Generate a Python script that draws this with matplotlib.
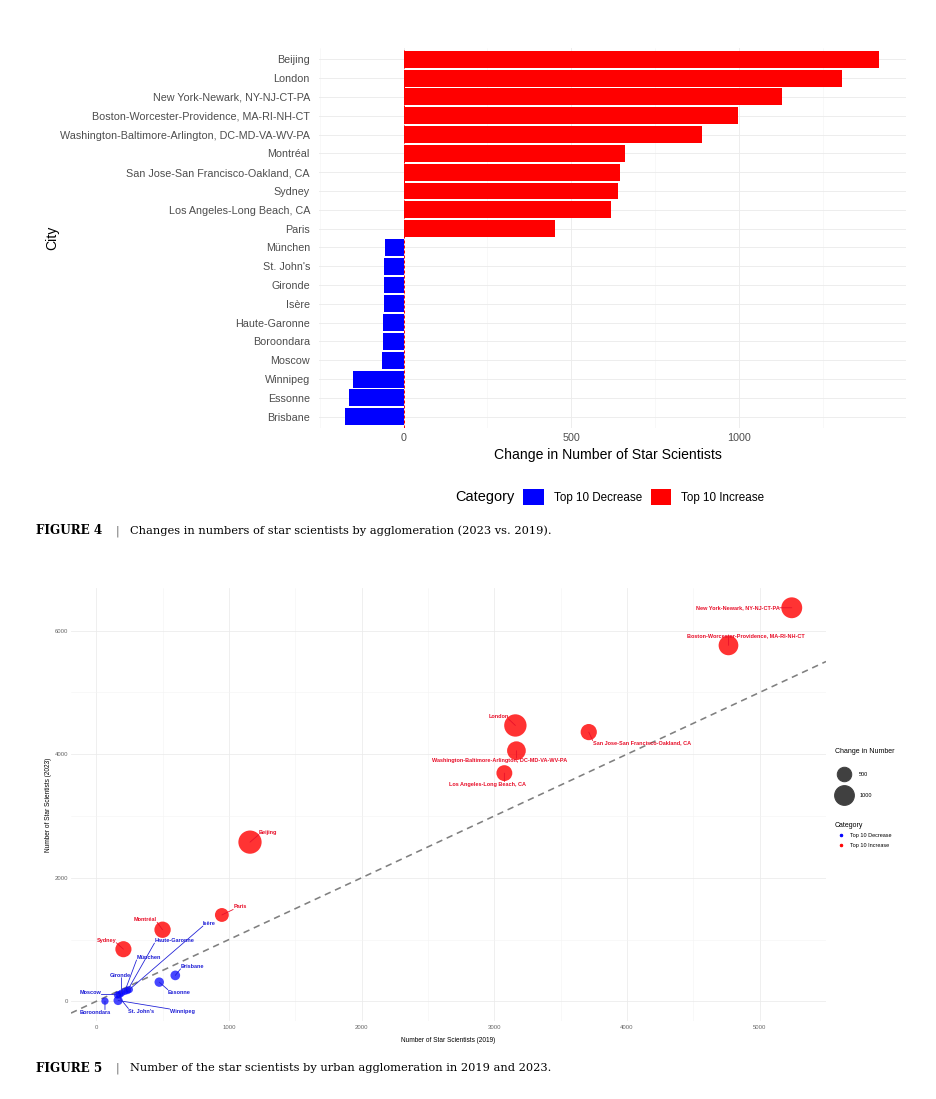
import matplotlib.pyplot as plt
import numpy as np
from matplotlib.patches import Patch
from matplotlib.lines import Line2D
from matplotlib.ticker import FixedLocator

plt.rcParams["font.family"] = ["Liberation Sans", "DejaVu Sans"]

# City order as in the bar chart (largest increase on top)
cities = [
    "Beijing", "London", "New York-Newark, NY-NJ-CT-PA",
    "Boston-Worcester-Providence, MA-RI-NH-CT",
    "Washington-Baltimore-Arlington, DC-MD-VA-WV-PA", "Montréal",
    "San Jose-San Francisco-Oakland, CA", "Sydney",
    "Los Angeles-Long Beach, CA", "Paris", "München", "St. John's",
    "Gironde", "Isère", "Haute-Garonne", "Boroondara", "Moscow",
    "Winnipeg", "Essonne", "Brisbane",
]
stars_2019 = [1159, 3159, 5242, 4765, 3167, 500, 3712, 205, 3076, 947,
              215, 160, 190, 250, 235, 66, 175, 165, 475, 596]
stars_2023 = [2577, 4465, 6370, 5761, 4057, 1159, 4358, 844, 3694, 1398,
              160, 102, 132, 191, 174, 4, 110, 14, 311, 420]

change = [b - a for a, b in zip(stars_2019, stars_2023)]
category = ["Top 10 Increase" if c > 0 else "Top 10 Decrease" for c in change]

bar_colors = {"Top 10 Decrease": "blue", "Top 10 Increase": "red"}
text_colors = {"Top 10 Decrease": "#1f1fd6", "Top 10 Increase": "#e8102a"}

# label offsets (points) for the scatter labels, ggrepel-like placement
label_offsets = {
    "New York-Newark, NY-NJ-CT-PA": (-54, 0),
    "Boston-Worcester-Providence, MA-RI-NH-CT": (17, 10),
    "San Jose-San Francisco-Oakland, CA": (53, -11),
    "London": (-17, 9),
    "Washington-Baltimore-Arlington, DC-MD-VA-WV-PA": (-17, -10),
    "Los Angeles-Long Beach, CA": (-17, -11),
    "Beijing": (18, 10),
    "Paris": (18, 8),
    "Montréal": (-17, 10),
    "Sydney": (-17, 9),
    "Isère": (80, 66),
    "Haute-Garonne": (47, 50),
    "München": (24, 34),
    "Brisbane": (17, 9),
    "Gironde": (-1, 18),
    "Essonne": (20, -10),
    "Moscow": (-29, 2),
    "Boroondara": (-10, -11),
    "St. John's": (24, -16),
    "Winnipeg": (64, -11),
}

W, H = 936, 1099
fig = plt.figure(figsize=(W / 72, H / 72), dpi=72)
fig.patch.set_facecolor("white")


def size_of(v):
    return 30 + 0.36 * abs(v)


# ---------------- Figure 4: bar chart ----------------
ax1 = fig.add_axes([319 / W, 1 - 428 / H, 587 / W, 380 / H])
ypos = list(range(len(cities)))
ax1.barh(ypos, change, height=0.9, color=[bar_colors[c] for c in category],
         zorder=2)
ax1.axvline(0, color="red", ls=(0, (3, 2)), lw=1, zorder=3)
ax1.set_ylim(len(cities) - 0.4, -0.6)
ax1.set_xlim(-252, 1497)
ax1.set_yticks(ypos, cities)
ax1.set_xticks([0, 500, 1000])
ax1.xaxis.set_minor_locator(FixedLocator([-250, 250, 750, 1250]))
ax1.grid(which="major", color="#ebebeb", lw=0.9, zorder=0)
ax1.grid(which="minor", axis="x", color="#f3f3f3", lw=0.5, zorder=0)
ax1.set_axisbelow(True)
for s in ax1.spines.values():
    s.set_visible(False)
ax1.tick_params(which="both", length=0, labelsize=10.8, labelcolor="#4d4d4d")
ax1.tick_params(axis="y", pad=9)
ax1.tick_params(axis="x", pad=5)

fig.text(608 / W, 1 - 455 / H, "Change in Number of Star Scientists",
         fontsize=14, ha="center", va="center")
fig.text(52 / W, 1 - 238 / H, "City", fontsize=14, rotation=90,
         ha="center", va="center")

fig.text(455 / W, 1 - 497 / H, "Category", fontsize=14.5, ha="left", va="center")
handles = [Patch(facecolor="blue", edgecolor="none"),
           Patch(facecolor="red", edgecolor="none")]
fig.legend(handles, ["Top 10 Decrease", "Top 10 Increase"], ncol=2,
           loc="center left", bbox_to_anchor=(513 / W, 1 - 497 / H),
           frameon=False, fontsize=11.6, handlelength=1.75, handleheight=1.75,
           columnspacing=0.75, handletextpad=0.85)

serif = ["DejaVu Serif"]
fig.text(36 / W, 1 - 531 / H, "FIGURE 4", family=serif, weight="bold",
         fontsize=12, va="center")
fig.text(117 / W, 1 - 531 / H, "|", family=serif, fontsize=11, color="#666666",
         va="center", ha="center")
fig.text(130 / W, 1 - 531 / H,
         "Changes in numbers of star scientists by agglomeration (2023 vs. 2019).",
         family=serif, fontsize=11.4, va="center")

# ---------------- Figure 5: scatter ----------------
ax2 = fig.add_axes([71 / W, 1 - 1021 / H, 755 / W, 433 / H])
ax2.set_xlim(-190, 5500)
ax2.set_ylim(-318, 6690)
ax2.set_xticks([0, 1000, 2000, 3000, 4000, 5000])
ax2.set_yticks([0, 2000, 4000, 6000])
ax2.xaxis.set_minor_locator(FixedLocator([500, 1500, 2500, 3500, 4500]))
ax2.yaxis.set_minor_locator(FixedLocator([1000, 3000, 5000]))
ax2.grid(which="major", color="#ebebeb", lw=0.8)
ax2.grid(which="minor", color="#f3f3f3", lw=0.5)
ax2.set_axisbelow(True)
for s in ax2.spines.values():
    s.set_visible(False)
ax2.tick_params(which="both", length=0, labelsize=6, labelcolor="#666666")
ax2.tick_params(axis="x", pad=4)
ax2.tick_params(axis="y", pad=3)

ax2.axline((0, 0), slope=1, color="#808080", ls=(0, (4, 3)), lw=1.6, zorder=1)

for name, x, y, c, cat in zip(cities, stars_2019, stars_2023, change, category):
    alpha = 0.8 if cat == "Top 10 Increase" else 0.72
    ax2.scatter(x, y, s=size_of(c), color=bar_colors[cat], alpha=alpha,
                edgecolors="none", zorder=3)

labels = []
for name, x, y, cat in zip(cities, stars_2019, stars_2023, category):
    dx, dy = label_offsets[name]
    ann = ax2.annotate(name, (x, y), xytext=(dx, dy), textcoords="offset points",
                       ha="center", va="center", fontsize=5.5, weight="bold",
                       color=text_colors[cat], zorder=4,
                       arrowprops=dict(arrowstyle="-", color=text_colors[cat],
                                       lw=0.8, shrinkA=0, shrinkB=0,
                                       patchA=None))
    labels.append((ann, x, y))

fig.text(448 / W, 1 - 1040 / H, "Number of Star Scientists (2019)",
         fontsize=6.5, ha="center", va="center")
fig.text(48 / W, 1 - 805 / H, "Number of Star Scientists (2023)",
         fontsize=6.5, rotation=90, ha="center", va="center")

# size legend
size_handles = [Line2D([], [], ls="none", marker="o", color="#404040",
                       markersize=size_of(v) ** 0.5) for v in (500, 1000)]
leg1 = fig.legend(size_handles, ["500", "1000"], title="Change in Number",
                  loc="upper left", bbox_to_anchor=(835 / W, 1 - 748 / H),
                  frameon=False, fontsize=5.5, title_fontsize=7,
                  labelspacing=3.0, handlelength=3.2, handletextpad=1.2,
                  borderaxespad=0, borderpad=0)
leg1._legend_box.align = "left"

cat_handles = [Line2D([], [], ls="none", marker="o", color=bar_colors[k],
                      markersize=2.5) for k in ("Top 10 Decrease", "Top 10 Increase")]
leg2 = fig.legend(cat_handles, ["Top 10 Decrease", "Top 10 Increase"],
                  title="Category", loc="upper left",
                  bbox_to_anchor=(835 / W, 1 - 822 / H), frameon=False,
                  fontsize=5.5, title_fontsize=7, labelspacing=0.8,
                  handlelength=2.2, handletextpad=0.6, borderaxespad=0,
                  borderpad=0)
leg2._legend_box.align = "left"

fig.text(36 / W, 1 - 1068 / H, "FIGURE 5", family=serif, weight="bold",
         fontsize=12, va="center")
fig.text(117 / W, 1 - 1068 / H, "|", family=serif, fontsize=11, color="#666666",
         va="center", ha="center")
fig.text(130 / W, 1 - 1068 / H,
         "Number of the star scientists by urban agglomeration in 2019 and 2023.",
         family=serif, fontsize=11.4, va="center")

# start each label's segment at the side of the label nearest its point
fig.canvas.draw()
renderer = fig.canvas.get_renderer()
for ann, x, y in labels:
    bb = ann.get_window_extent(renderer)
    px, py = ax2.transData.transform((x, y))
    rx = np.clip((px - bb.x0) / bb.width, 0, 1)
    ry = np.clip((py - bb.y0) / bb.height, 0, 1)
    ann._arrow_relpos = (rx, ry)

fig.savefig("out.png", dpi=72)
